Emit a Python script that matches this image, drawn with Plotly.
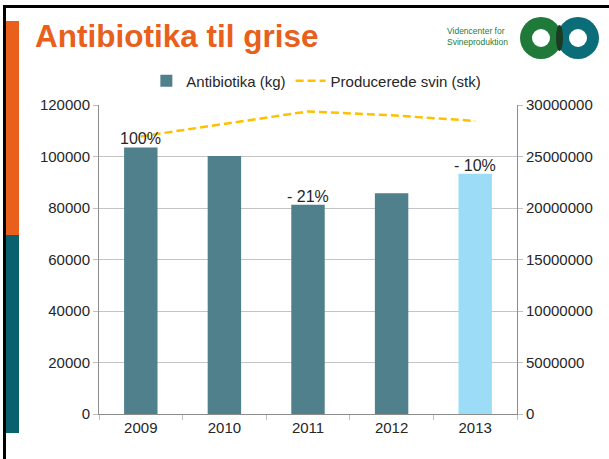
import plotly.graph_objects as go

# data
years = ["2009", "2010", "2011", "2012", "2013"]
antibiotika_kg = [103500, 100200, 81300, 85700, 93300]
svin_stk = [26950000, 28150000, 29380000, 29000000, 28450000]
bar_labels = ["100%", "", "- 21%", "", "- 10%"]
bar_colors = ["#4f808c", "#4f808c", "#4f808c", "#4f808c", "#9ddcf6"]

left_ticks = [0, 20000, 40000, 60000, 80000, 100000, 120000]
right_ticks = [0, 5000000, 10000000, 15000000, 20000000, 25000000, 30000000]

W, H = 609, 459
L, R, T, B = 99, 92, 105, 45
FONT = "Liberation Sans, Arial, sans-serif"
TXT = "#262626"


def px(x):
    return (x - L) / (W - L - R)


def py(y):
    return (H - B - y) / (H - T - B)


def box(x0, x1, y0, y1, color, kind="rect"):
    return dict(type=kind, xref="paper", yref="paper",
                x0=px(x0), x1=px(x1), y0=py(y1), y1=py(y0),
                fillcolor=color, line=dict(width=0), layer="above")


fig = go.Figure()

fig.add_trace(
    go.Bar(
        x=years,
        y=antibiotika_kg,
        name="Antibiotika (kg)",
        marker=dict(color=bar_colors, line=dict(width=0)),
        width=0.4,
    )
)

fig.add_trace(
    go.Scatter(
        x=years,
        y=svin_stk,
        name="Producerede svin (stk)",
        mode="lines",
        line=dict(color="#ffc000", width=2.5, dash="8px,4px"),
        yaxis="y2",
    )
)

# slide decoration
shapes = [
    box(3, 609, 5, 8, "black"),
    box(3, 6, 5, 459, "black"),
    box(6, 19, 21, 235, "#e8601c"),
    box(6, 19, 235, 433, "#08616d"),
]

# logo rings
for cx, col in [(541, "#1f7a3a"), (578, "#0b6d78")]:
    shapes.append(box(cx - 21, cx + 21, 17, 59, col, "circle"))
shapes.append(box(556, 563, 25, 51, "#1b3a22", "circle"))
for cx in [541, 578]:
    shapes.append(box(cx - 9, cx + 9, 29, 47, "white", "circle"))

annotations = [
    dict(text="<b>Antibiotika til grise</b>", x=px(33), y=py(36), xref="paper", yref="paper",
         xanchor="left", yanchor="middle", showarrow=False,
         font=dict(size=31.5, color="#e8601c", family=FONT)),
    dict(text="Videncenter for<br>Svineproduktion", x=px(445), y=py(37), xref="paper", yref="paper",
         xanchor="left", yanchor="middle", showarrow=False, align="left",
         font=dict(size=8.5, color="#2a7a3a", family=FONT)),
]

# percentage labels above the bars (category index on x)
for i, (val, lab) in enumerate(zip(antibiotika_kg, bar_labels)):
    if lab:
        annotations.append(
            dict(text=lab, x=i, y=val, xref="x", yref="y", xanchor="center", yanchor="bottom",
                 yshift=-2, showarrow=False, font=dict(size=16, color=TXT, family=FONT))
        )

fig.update_layout(
    width=W,
    height=H,
    margin=dict(l=L, r=R, t=T, b=B, pad=0),
    paper_bgcolor="white",
    plot_bgcolor="white",
    font=dict(family=FONT, size=15, color=TXT),
    showlegend=True,
    legend=dict(orientation="h", x=0.52, xanchor="center", y=py(81), yanchor="middle",
                font=dict(size=15, color=TXT), traceorder="normal", itemwidth=30),
    xaxis=dict(
        type="category",
        range=[-0.5, 4.5],
        showgrid=False,
        showline=True,
        linecolor="#8c8c8c",
        ticks="outside",
        tickson="boundaries",
        ticklen=5,
        tickcolor="#bfbfbf",
        tickfont=dict(size=15, color=TXT),
    ),
    yaxis=dict(
        range=[0, 120000],
        tickvals=left_ticks,
        tickformat="d",
        showgrid=True,
        gridcolor="#c4c4c4",
        zeroline=False,
        showline=True,
        linecolor="#8c8c8c",
        ticks="outside",
        ticklen=5,
        tickcolor="#bfbfbf",
        tickfont=dict(size=15, color=TXT),
    ),
    yaxis2=dict(
        range=[0, 30000000],
        tickvals=right_ticks,
        tickformat="d",
        overlaying="y",
        side="right",
        showgrid=False,
        zeroline=False,
        showline=True,
        linecolor="#8c8c8c",
        ticks="outside",
        ticklen=5,
        tickcolor="#bfbfbf",
        tickfont=dict(size=15, color=TXT),
    ),
    shapes=shapes,
    annotations=annotations,
)

fig.write_html("out.html", config={"displayModeBar": False},
               post_script="document.body.style.margin='0';")
